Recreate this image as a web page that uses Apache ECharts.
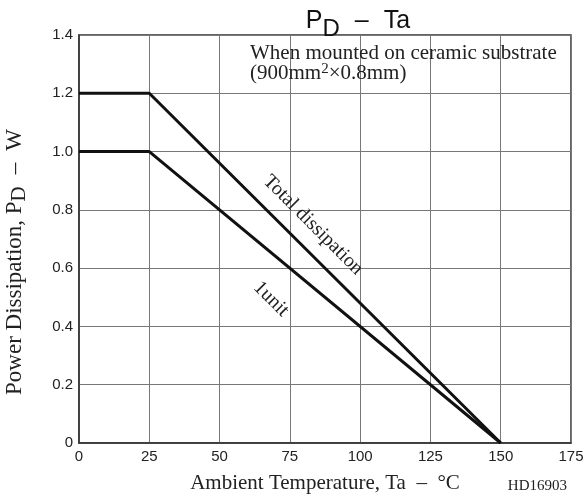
<!DOCTYPE html>
<html><head><meta charset="utf-8">
<script src="https://cdn.jsdelivr.net/npm/echarts@6/dist/echarts.min.js"></script>
<style>html,body{margin:0;padding:0;background:#fff}#c{width:585px;height:498px}</style>
</head><body><div id="c"></div>
<script>
const xTicks = [0, 25, 50, 75, 100, 125, 150, 175];
const yTicks = [0, 0.2, 0.4, 0.6, 0.8, 1.0, 1.2, 1.4];
const totalTa = [0, 25, 150];
const totalPd = [1.2, 1.2, 0];
const unitTa = [0, 25, 150];
const unitPd = [1.0, 1.0, 0];

const chart = echarts.init(document.getElementById('c'));
const serif = '"Liberation Serif", "Times New Roman", serif';
const sans = '"Liberation Sans", Arial, sans-serif';
chart.setOption({
  animation: false,
  title: {
    text: '{a|P}{s|D}{d|–}{a|Ta}',
    left: 353, top: 2, textAlign: 'center',
    textStyle: { rich: {
      a: { fontFamily: sans, fontSize: 25, fontWeight: 'normal', color: '#111', verticalAlign: 'bottom', lineHeight: 27 },
      d: { fontFamily: sans, fontSize: 25, fontWeight: 'normal', color: '#111', verticalAlign: 'bottom', lineHeight: 27, padding: [0, 15, 0, 15] },
      s: { fontFamily: sans, fontSize: 24, fontWeight: 'normal', color: '#111', verticalAlign: 'bottom', padding: [0,0,-7,0], lineHeight: 27 }
    } }
  },
  grid: { left: 79, right: 14, top: 35, bottom: 55, containLabel: false, outerBoundsMode: 'none',
    show: true, borderColor: '#333', borderWidth: 1.5, backgroundColor: 'transparent' },
  xAxis: {
    type: 'value', min: 0, max: 175, interval: 25,
    axisLine: { show: true, lineStyle: { color: '#333', width: 1.5 } },
    axisTick: { show: false },
    axisLabel: { fontFamily: sans, fontSize: 15, color: '#222', margin: 6 },
    splitLine: { show: true, lineStyle: { color: '#777', width: 1 } },
    name: 'Ambient Temperature, Ta  –  °C', nameLocation: 'middle', nameGap: 30,
    nameTextStyle: { fontFamily: serif, fontSize: 21, color: '#222' }
  },
  yAxis: {
    type: 'value', min: 0, max: 1.4, interval: 0.2,
    axisLine: { show: true, lineStyle: { color: '#333', width: 1.5 } },
    axisTick: { show: false },
    axisLabel: { fontFamily: sans, fontSize: 15, color: '#222', margin: 6,
      formatter: v => v === 0 ? '0' : v.toFixed(1) },
    splitLine: { show: true, lineStyle: { color: '#777', width: 1 } },
    name: '{a|Power Dissipation, P}{s|D}{d|–}{a|W}', nameLocation: 'middle', nameGap: 52,
    nameTextStyle: { padding: [0, 46, 0, 0], rich: {
      a: { fontFamily: serif, fontSize: 23, color: '#222', lineHeight: 24 },
      d: { fontFamily: serif, fontSize: 23, color: '#222', lineHeight: 24, padding: [0, 12, 0, 12] },
      s: { fontFamily: serif, fontSize: 21, color: '#222', padding: [0,0,-8,0], lineHeight: 24 }
    } }
  },
  series: [
    { type: 'line', data: totalTa.map((t, i) => [t, totalPd[i]]), symbol: 'none',
      lineStyle: { color: '#111', width: 3 } },
    { type: 'line', data: unitTa.map((t, i) => [t, unitPd[i]]), symbol: 'none',
      lineStyle: { color: '#111', width: 3 } }
  ],
  graphic: [
    { type: 'text', x: 250, y: 43, style: { text: 'When mounted on ceramic substrate',
      font: '21px ' + serif, fill: '#222' }, z: 20 },
    { type: 'text', x: 250, y: 62, style: { text: '{a|(900mm}{s|2}{a|×0.8mm)}',
      rich: { a: { fontFamily: serif, fontSize: 21, fill: '#222', verticalAlign: 'bottom', lineHeight: 22 },
              s: { fontFamily: serif, fontSize: 15, fill: '#222', verticalAlign: 'top', padding: [0,0,7,0], lineHeight: 22 } } }, z: 20 },
    { type: 'text', x: 313, y: 225, rotation: -0.785,
      style: { text: 'Total dissipation', font: '20px ' + serif, fill: '#222', align: 'center', verticalAlign: 'middle' }, z: 20 },
    { type: 'text', x: 271, y: 299, rotation: -0.785,
      style: { text: '1unit', font: '20px ' + serif, fill: '#222', align: 'center', verticalAlign: 'middle' }, z: 20 },
    { type: 'text', x: 567, y: 486, style: { text: 'HD16903', font: '15px ' + serif, fill: '#222', align: 'right', verticalAlign: 'middle' }, z: 20 }
  ]
});
</script></body></html>
